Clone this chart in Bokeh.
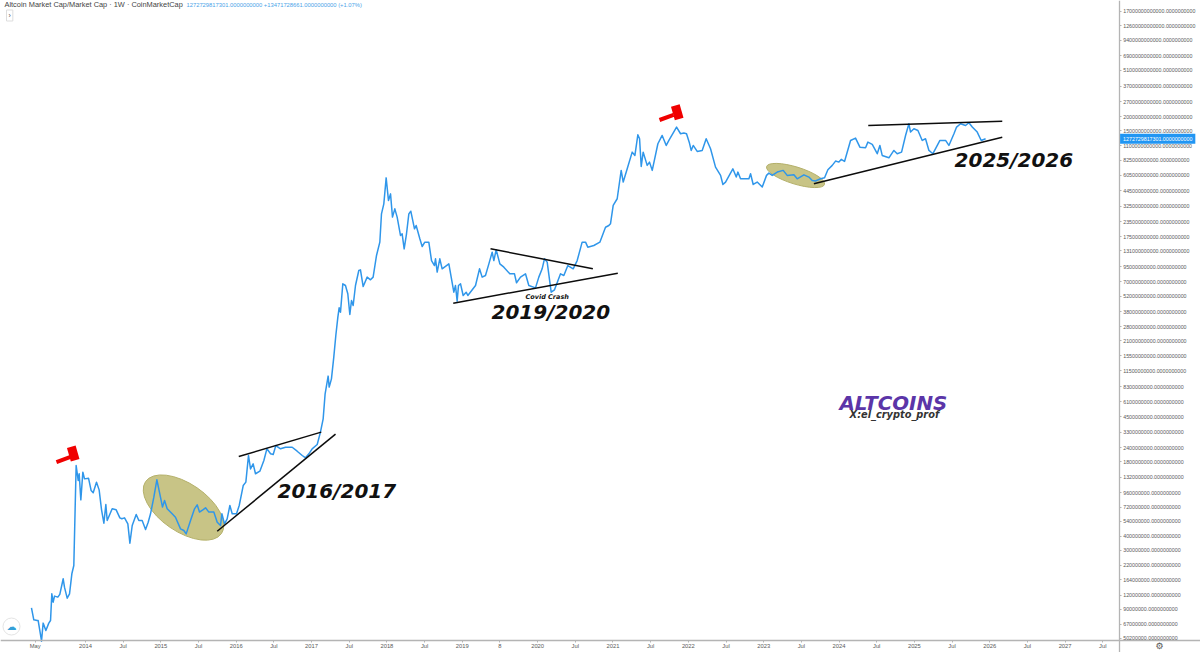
import numpy as np
from bokeh.plotting import figure
from bokeh.models import Range1d, FixedTicker, PrintfTickFormatter, Label
from bokeh.core.properties import value
from bokeh.embed import file_html
from bokeh.resources import INLINE

# weekly samples: decimal year and log10(market cap in USD)
years = [2013.283,2013.314,2013.359,2013.372,2013.412,2013.416,2013.438,2013.474,2013.513,2013.536,2013.553,2013.571,2013.589,2013.633,2013.659,2013.704,2013.721,2013.757,2013.788,2013.819,2013.845,2013.863,2013.876,2013.903,2013.916,2013.938,2013.965,2013.987,2014.040,2014.075,2014.102,2014.146,2014.181,2014.213,2014.244,2014.270,2014.288,2014.354,2014.407,2014.456,2014.482,2014.518,2014.562,2014.589,2014.620,2014.673,2014.708,2014.752,2014.797,2014.832,2014.863,2014.907,2014.947,2014.995,2015.022,2015.049,2015.084,2015.150,2015.194,2015.261,2015.305,2015.336,2015.394,2015.447,2015.482,2015.513,2015.557,2015.593,2015.637,2015.703,2015.748,2015.792,2015.810,2015.845,2015.880,2015.916,2015.947,2016.004,2016.040,2016.093,2016.128,2016.163,2016.190,2016.225,2016.256,2016.314,2016.367,2016.407,2016.456,2016.491,2016.526,2016.588,2016.655,2016.743,2016.809,2016.876,2016.920,2016.964,2017.008,2017.075,
 2017.118,2017.154,2017.180,2017.220,2017.234,2017.264,2017.295,2017.322,2017.349,2017.366,2017.384,2017.415,2017.450,2017.481,2017.508,2017.530,2017.552,2017.583,2017.627,2017.649,2017.685,2017.738,2017.782,2017.817,2017.862,2017.906,2017.928,2017.959,2017.990,2018.021,2018.048,2018.074,2018.105,2018.136,2018.180,2018.202,2018.229,2018.260,2018.291,2018.317,2018.366,2018.388,2018.437,2018.468,2018.503,2018.556,2018.592,2018.631,2018.645,2018.667,2018.702,2018.733,2018.822,2018.853,2018.888,2018.910,2018.932,2018.950,2018.977,2019.012,2019.052,2019.074,2019.176,2019.229,2019.264,2019.308,2019.353,2019.397,2019.419,2019.450,2019.499,2019.552,2019.631,2019.693,2019.720,2019.773,2019.839,2019.883,2019.972,2020.016,2020.060,2020.091,2020.127,2020.180,2020.224,2020.304,2020.348,2020.401,2020.472,2020.525,2020.591,2020.636,2020.666,2020.746,2020.826,2020.901,2020.945,2020.967,
 2021.003,2021.056,2021.109,2021.136,2021.189,2021.255,2021.291,2021.330,2021.353,2021.375,2021.401,2021.454,2021.485,2021.521,2021.596,2021.653,2021.707,2021.742,2021.844,2021.897,2021.941,2021.976,2022.012,2022.038,2022.065,2022.118,2022.184,2022.237,2022.295,2022.361,2022.428,2022.459,2022.494,2022.591,2022.636,2022.658,2022.693,2022.804,2022.826,2022.861,2022.914,2022.981,2023.038,2023.069,2023.113,2023.180,2023.259,2023.312,2023.401,2023.445,2023.534,2023.600,2023.644,2023.688,2023.755,2023.808,2023.852,2023.910,2023.954,2023.998,2024.029,2024.073,2024.153,2024.219,2024.277,2024.352,2024.383,2024.441,2024.507,2024.542,2024.573,2024.662,2024.728,2024.772,2024.830,2024.883,2024.927,2024.949,2024.994,2025.047,2025.104,2025.148,2025.193,2025.246,2025.339,2025.414,2025.458,2025.525,2025.560,2025.613,2025.679,2025.724,2025.768,2025.834,2025.887,2025.945]
log10_cap = [7.969,7.863,7.857,7.857,7.696,7.675,7.834,7.769,7.834,7.857,8.092,8.019,8.072,8.063,8.087,8.225,8.151,8.054,8.092,8.269,8.342,8.857,9.224,9.092,9.151,8.921,9.165,9.106,9.112,9.003,8.983,9.077,9.009,8.833,8.715,8.880,8.739,8.842,8.833,8.762,8.754,8.762,8.709,8.539,8.695,8.792,8.739,8.739,8.660,8.724,8.798,8.945,9.098,8.945,8.857,8.915,8.842,8.798,8.768,8.665,8.651,8.621,8.739,8.842,8.877,8.813,8.833,8.851,8.813,8.813,8.724,8.695,8.798,8.709,8.754,8.871,8.798,8.798,8.871,9.047,9.077,9.312,9.194,9.238,9.151,9.174,9.268,9.371,9.327,9.321,9.400,9.371,9.385,9.385,9.350,9.312,9.292,9.327,9.371,9.409,
 9.518,9.635,9.856,10.012,9.915,9.988,10.179,10.370,10.532,10.614,10.576,10.826,10.811,10.738,10.555,10.679,10.635,10.811,10.943,10.949,10.802,10.885,10.861,10.885,11.076,11.193,11.443,11.531,11.760,11.560,11.619,11.414,11.487,11.414,11.252,11.267,11.134,11.267,11.443,11.466,11.311,11.340,11.223,11.155,11.193,11.193,11.031,10.987,11.046,10.929,11.046,10.958,11.002,10.885,10.752,10.811,10.673,10.811,10.826,10.723,10.752,10.723,10.811,10.958,10.885,10.899,11.002,11.105,11.031,11.126,11.002,10.973,10.914,10.914,10.835,10.885,10.914,10.811,10.790,10.885,10.958,11.046,11.017,10.752,10.773,10.914,10.899,10.987,10.958,11.031,11.193,11.193,11.149,11.164,11.193,11.325,11.340,11.355,
 11.517,11.576,11.826,11.723,11.840,11.987,11.958,12.140,12.105,11.861,11.987,11.870,11.899,11.826,12.061,12.134,12.046,12.090,12.208,12.149,12.155,12.149,12.075,12.002,12.046,11.993,12.002,12.105,12.017,11.855,11.782,11.702,11.723,11.840,11.767,11.811,11.752,11.752,11.796,11.702,11.723,11.679,11.782,11.802,11.782,11.811,11.826,11.782,11.787,11.752,11.787,11.767,11.737,11.732,11.752,11.761,11.832,11.870,11.908,11.899,11.923,11.905,12.090,12.111,12.031,12.025,12.075,12.055,11.973,12.046,11.958,11.937,12.002,11.973,11.987,12.134,12.237,12.164,12.193,12.178,12.090,12.105,12.002,11.973,12.090,12.090,12.046,12.149,12.208,12.237,12.222,12.246,12.208,12.164,12.090,12.105]

y_ticks = [17000000000000,12600000000000,9400000000000,6900000000000,5100000000000,3700000000000,2700000000000,2000000000000,1500000000000,1100000000000,825000000000,605000000000,445000000000,325000000000,235000000000,175000000000,131000000000,95000000000,70000000000,52000000000,38000000000,28000000000,21000000000,15500000000,11500000000,8300000000,6100000000,4500000000,3300000000,2400000000,1800000000,1320000000,960000000,720000000,540000000,400000000,300000000,220000000,164000000,120000000,90000000,67000000,50200000]
x_ticks = [2013.333,2014,2014.5,2015,2015.5,2016,2016.5,2017,2017.5,2018,2018.5,2019,2019.5,2020,2020.5,2021,2021.5,2022,2022.5,2023,2023.5,2024,2024.5,2025,2025.5,2026,2026.5,2027,2027.5]
x_labels = ["May","2014","Jul","2015","Jul","2016","Jul","2017","Jul","2018","Jul","2019","8","2020","Jul","2021","Jul","2022","Jul","2023","Jul","2024","Jul","2025","Jul","2026","Jul","2027","Jul"]

trend_x0 = [2016.034,2015.748,2019.375,2018.880,2023.666,2024.388]
trend_y0 = [9.303,8.644,11.135,10.655,11.708,12.222]
trend_x1 = [2017.128,2017.318,2020.733,2021.064,2026.166,2026.166]
trend_y1 = [9.518,9.500,10.958,10.920,12.119,12.260]
zone_x = [2015.301,2023.423]
zone_y = [8.853,11.781]
gavel_x = [2013.837,2021.853]
gavel_y = [9.330,12.339]
handle_x = [2013.708,2021.711]
handle_y = [9.277,12.293]
last_price = 1272729817301

LINE = "#2f96ea"
AXIS = "#b4b4b4"
SANS = "Liberation Sans"
BOLD = "DejaVu Sans"

p = figure(width=1200, height=652, output_backend="svg", toolbar_location=None,
           y_axis_type="log", y_axis_location="right",
           x_range=Range1d(2012.872, 2028.797),
           y_range=Range1d(10**7.575, 10**13.324),
           min_border_left=0, min_border_top=0, min_border_right=0, min_border_bottom=0,
           outline_line_color=None, background_fill_color="white")
p.grid.visible = False

for ax in (p.xaxis[0], p.yaxis[0]):
    ax.axis_line_color = AXIS
    ax.axis_line_width = 1.3
    ax.major_tick_line_color = AXIS
    ax.major_tick_in = 0
    ax.major_tick_out = 2
    ax.minor_tick_line_color = None
    ax.major_label_text_color = "#5a5a5a"
    ax.major_label_text_font = SANS
    ax.major_label_standoff = 2
p.xaxis[0].major_label_text_font_size = "5.8px"
p.xaxis[0].major_label_standoff = 1
p.yaxis[0].major_label_text_font_size = "5.3px"
p.xaxis[0].ticker = FixedTicker(ticks=x_ticks)
p.xaxis[0].major_label_overrides = dict(zip(x_ticks, x_labels))
p.xaxis[0].fixed_location = 10**7.685
p.yaxis[0].ticker = FixedTicker(ticks=y_ticks)
p.yaxis[0].formatter = PrintfTickFormatter(format="%.10f")
p.yaxis[0].fixed_location = 2027.718

yr = np.array(years)
cap = 10 ** np.array(log10_cap)

p.ellipse(zone_x, 10 ** np.array(zone_y), width=[92, 60.6], height=[48, 17], angle=[-0.6, -0.3],
          width_units="screen", height_units="screen",
          fill_color="#c8c486", line_color="#b4b06a", line_width=1)
p.line(yr, cap, line_color=LINE, line_width=1.5, line_join="round")
p.segment(trend_x0, 10 ** np.array(trend_y0), trend_x1, 10 ** np.array(trend_y1),
          line_color="#0c0c0c", line_width=1.5)
p.rect(handle_x, 10 ** np.array(handle_y), width=15, height=4, angle=0.35,
       width_units="screen", height_units="screen", fill_color="#f00000", line_color=None)
p.rect(gavel_x, 10 ** np.array(gavel_y), width=9, height=14, angle=0.28,
       width_units="screen", height_units="screen", fill_color="#f00000", line_color=None)
p.scatter([2013.018], [10**7.804], size=17, marker="circle", fill_color="white", line_color="#e4e4e4")
p.text([2013.018], [10**7.804], text=["☁"], text_font=value(BOLD), text_font_size="10px",
       text_color="#35a0d8", text_align="center", text_baseline="middle")

def note(year, logv, text, size, color="#111111"):
    p.text([year], [10**logv], text=[text], text_font=value(BOLD), text_font_style="bold italic",
           text_font_size=size, text_color=color, text_align="left", text_baseline="middle")

note(2016.548, 8.995, "2016/2017", "20px")
note(2019.388, 10.573, "2019/2020", "20px")
note(2025.533, 11.922, "2025/2026", "20px")
note(2019.839, 10.710, "Covid Crash", "6.5px")
note(2024.007, 9.771, "ALTCOINS", "19.8px", "#5b35a8")
note(2024.140, 9.674, "X:el_crypto_prof", "9.8px", "#333333")

p.add_layout(Label(x=4, y=648, x_units="screen", y_units="screen", text="Altcoin Market Cap/Market Cap · 1W · CoinMarketCap",
                   text_font=SANS, text_font_size="7.4px", text_color="#444444", text_baseline="middle"))
p.add_layout(Label(x=186, y=648, x_units="screen", y_units="screen",
                   text="1272729817301.0000000000 +13471728661.0000000000 (+1.07%)",
                   text_font=SANS, text_font_size="5.8px", text_color="#4aa3e8", text_baseline="middle"))
p.add_layout(Label(x=6, y=637, x_units="screen", y_units="screen", text="›", text_font=SANS, text_font_size="7px",
                   text_color="#555555", text_baseline="middle", border_line_color="#dddddd", padding=2))
p.add_layout(Label(x=2027.73, y=last_price, text=f"{last_price}.0000000000",
                   text_font=SANS, text_font_size="5.3px", text_color="white", text_baseline="middle",
                   background_fill_color="#2196f3", padding=3))
p.add_layout(Label(x=2028.254, y=10**7.628, text="⚙", text_font=BOLD, text_font_size="9px",
                   text_color="#555555", text_baseline="middle", text_align="center"))

open("out.html", "w").write(file_html(p, INLINE))
